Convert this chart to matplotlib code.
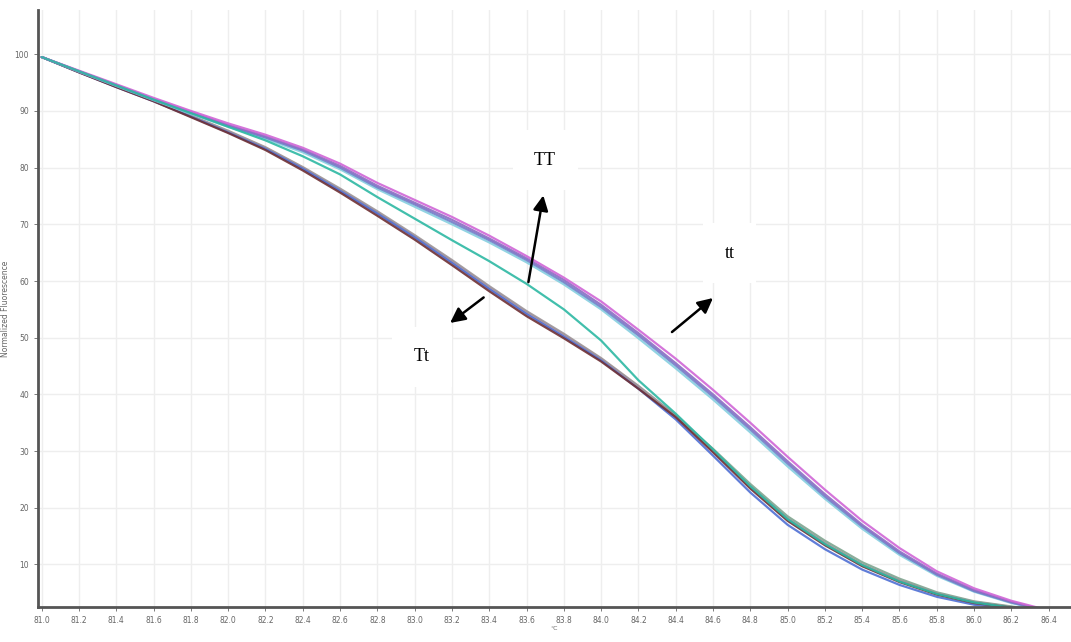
import numpy as np
import matplotlib
matplotlib.use("Agg")
import matplotlib.pyplot as plt

# ---- data ----
temps = [81.0, 81.2, 81.4, 81.6, 81.8, 82.0, 82.2, 82.4, 82.6, 82.8, 83.0, 83.2, 83.4, 83.6,
         83.8, 84.0, 84.2, 84.4, 84.6, 84.8, 85.0, 85.2, 85.4, 85.6, 85.8, 86.0, 86.2, 86.4]

# tt group (upper curves)
tt_purple = [99.5, 97.0, 94.6, 92.1, 89.8, 87.5, 85.5, 83.2, 80.3, 76.8, 73.8, 70.8, 67.5, 64.0,
             60.2, 55.8, 50.8, 45.5, 40.0, 34.2, 28.2, 22.4, 17.0, 12.3, 8.4, 5.5, 3.4, 1.8]
tt_magenta = [99.5, 97.1, 94.7, 92.3, 90.0, 87.8, 85.8, 83.5, 80.7, 77.3, 74.3, 71.3, 68.0, 64.4,
              60.6, 56.4, 51.4, 46.3, 40.8, 35.0, 29.0, 23.2, 17.7, 12.9, 8.8, 5.8, 3.6, 1.9]
tt_cyan = [99.5, 96.9, 94.4, 91.9, 89.5, 87.2, 85.1, 82.7, 79.7, 76.2, 73.1, 70.0, 66.8, 63.3,
           59.4, 55.0, 49.9, 44.6, 39.1, 33.3, 27.3, 21.6, 16.3, 11.7, 8.0, 5.2, 3.2, 1.7]
tt_blue = [99.5, 97.0, 94.5, 92.0, 89.7, 87.4, 85.3, 83.0, 80.0, 76.5, 73.5, 70.4, 67.2, 63.7,
           59.8, 55.4, 50.4, 45.1, 39.6, 33.8, 27.8, 22.0, 16.7, 12.0, 8.2, 5.3, 3.3, 1.7]

# TT (teal, middle curve)
TT_teal = [99.5, 97.0, 94.5, 92.0, 89.6, 87.2, 84.8, 82.0, 78.8, 74.8, 71.0, 67.2, 63.5, 59.5,
           55.0, 49.5, 42.5, 36.6, 30.3, 23.8, 18.0, 13.6, 9.9, 7.0, 4.8, 3.3, 2.4, 1.6]

# Tt group (lower curves)
Tt_brown = [99.5, 96.8, 94.2, 91.7, 88.9, 86.1, 83.1, 79.5, 75.6, 71.5, 67.3, 62.8, 58.2, 53.8,
            49.9, 45.8, 41.0, 36.0, 29.8, 23.4, 17.7, 13.4, 9.7, 6.9, 4.7, 3.2, 2.4, 1.6]
Tt_grey = [99.5, 96.9, 94.3, 91.9, 89.2, 86.5, 83.6, 80.1, 76.3, 72.3, 68.1, 63.7, 59.1, 54.7,
           50.7, 46.4, 41.5, 36.3, 30.2, 23.8, 18.1, 13.8, 10.0, 7.2, 4.9, 3.4, 2.5, 1.7]
Tt_blue = [99.5, 96.8, 94.2, 91.7, 89.0, 86.2, 83.3, 79.8, 75.9, 71.9, 67.7, 63.2, 58.6, 54.2,
           50.2, 46.0, 41.0, 35.6, 29.2, 22.7, 17.0, 12.7, 9.1, 6.4, 4.3, 2.9, 2.2, 1.5]
Tt_green = [99.5, 96.9, 94.3, 91.8, 89.1, 86.3, 83.4, 79.9, 76.0, 72.0, 67.8, 63.4, 58.8, 54.4,
            50.4, 46.2, 41.4, 36.2, 30.4, 24.2, 18.5, 14.2, 10.4, 7.5, 5.1, 3.5, 2.6, 1.7]
Tt_pink = [99.5, 96.9, 94.3, 91.8, 89.1, 86.4, 83.5, 80.0, 76.1, 72.1, 67.9, 63.5, 58.9, 54.5,
           50.5, 46.3, 41.3, 36.1, 30.0, 23.6, 17.9, 13.6, 9.9, 7.1, 4.8, 3.3, 2.4, 1.6]

y_ticks = [10, 20, 30, 40, 50, 60, 70, 80, 90, 100]
x_ticks = temps

series = [
    (Tt_green, "#7fa58f"), (Tt_pink, "#d4a6bd"), (Tt_grey, "#9c9498"),
    (Tt_blue, "#4f6fd4"), (Tt_brown, "#6e2f33"),
    (tt_cyan, "#86cfe0"), (tt_blue, "#6f7fc8"), (tt_purple, "#8a6ec4"), (tt_magenta, "#d066d6"),
    (TT_teal, "#2db8a3"),
]

fig = plt.figure(figsize=(10.71, 6.42), dpi=100)
ax = fig.add_axes([38/1071, 1 - 607/642, 1 - 38/1071, (607 - 10)/642])

for ys, c in series:
    ax.plot(temps, ys, color=c, lw=1.6, alpha=0.9,
            solid_capstyle="round", solid_joinstyle="round")

ax.set_xlim(80.98, 86.52)
ax.set_ylim(2.5, 107.8)
ax.set_xticks(x_ticks)
ax.set_xticklabels([f"{t:.1f}" for t in x_ticks])
ax.set_yticks(y_ticks)
ax.set_yticklabels([str(v) for v in y_ticks])
ax.tick_params(axis="both", labelsize=5.5, colors="#666666", length=3, width=0.6)
ax.grid(True, color="#eeeeee", lw=1.0)
ax.set_axisbelow(True)
for s in ["top", "right"]:
    ax.spines[s].set_visible(False)
for s in ["left", "bottom"]:
    ax.spines[s].set_color("#555555")
    ax.spines[s].set_linewidth(2)

ax.set_ylabel("Normalized Fluorescence", fontsize=5.5, color="#666666", labelpad=2)
ax.yaxis.set_label_coords(-0.027, 0.5)
ax.set_xlabel("°C", fontsize=4.5, color="#666666", labelpad=1)

serif = ["Liberation Serif", "DejaVu Serif"]
bbox = dict(boxstyle="square,pad=1.2", fc="white", ec="none")
arrow = dict(arrowstyle="-|>,head_length=0.9,head_width=0.45", color="black", lw=1.8,
             shrinkA=0, shrinkB=0)

ax.text(83.70, 81.3, "TT", fontsize=13, family=serif, ha="center", va="center", bbox=bbox)
ax.annotate("", xy=(83.69, 75.1), xytext=(83.61, 59.8), arrowprops=arrow)

ax.text(84.69, 64.9, "tt", fontsize=13, family=serif, ha="center", va="center", bbox=bbox)
ax.annotate("", xy=(84.60, 57.0), xytext=(84.38, 51.0), arrowprops=arrow)

ax.text(83.04, 46.6, "Tt", fontsize=13, family=serif, ha="center", va="center", bbox=bbox)
ax.annotate("", xy=(83.19, 52.6), xytext=(83.37, 57.1), arrowprops=arrow)

fig.savefig("out.png", dpi=100)
